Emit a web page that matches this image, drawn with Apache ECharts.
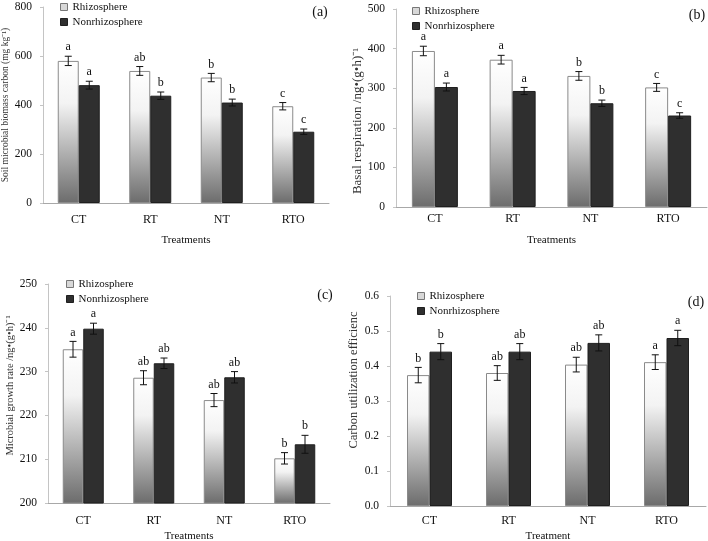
<!DOCTYPE html>
<html>
<head>
<meta charset="utf-8">
<script src="https://cdn.jsdelivr.net/npm/echarts@6/dist/echarts.min.js"></script>
<style>
  html, body { margin: 0; padding: 0; background: #fff; }
  #chart { width: 708px; height: 541px; }
</style>
</head>
<body>
<div id="chart"></div>
<script>
var categories = ['CT', 'RT', 'NT', 'RTO'];

// (a) soil microbial biomass carbon
var mbcRhizo = [580, 539, 512, 395];
var mbcRhizoErr = [19, 18, 17, 15];
var mbcRhizoSig = ['a', 'ab', 'b', 'c'];
var mbcNon = [481, 438, 410, 291];
var mbcNonErr = [16, 15, 14, 11];
var mbcNonSig = ['a', 'b', 'b', 'c'];

// (b) basal respiration
var brRhizo = [394, 372, 331, 302];
var brRhizoErr = [12, 11, 11, 10];
var brRhizoSig = ['a', 'a', 'b', 'c'];
var brNon = [303, 293, 262, 231];
var brNonErr = [10, 9, 8, 7];
var brNonSig = ['a', 'a', 'b', 'c'];

// (c) microbial growth rate
var mgrRhizo = [235.1, 228.6, 223.5, 210.2];
var mgrRhizoErr = [1.8, 1.6, 1.5, 1.3];
var mgrRhizoSig = ['a', 'ab', 'ab', 'b'];
var mgrNon = [239.8, 231.9, 228.7, 213.4];
var mgrNonErr = [1.25, 1.2, 1.3, 2.05];
var mgrNonSig = ['a', 'ab', 'ab', 'b'];

// (d) carbon utilization efficiency
var cueRhizo = [0.374, 0.380, 0.404, 0.411];
var cueRhizoErr = [0.022, 0.021, 0.021, 0.021];
var cueRhizoSig = ['b', 'ab', 'ab', 'a'];
var cueNon = [0.441, 0.441, 0.466, 0.480];
var cueNonErr = [0.023, 0.023, 0.023, 0.022];
var cueNonSig = ['b', 'ab', 'ab', 'a'];

var serif = '"Liberation Serif", "Times New Roman", serif';
var myChart = echarts.init(document.getElementById('chart'));

function rhizoFill() {
    return new echarts.graphic.LinearGradient(0, 0, 0, 1, [
        { offset: 0, color: '#ffffff' },
        { offset: 0.3, color: '#f3f3f3' },
        { offset: 1, color: '#6c6c6c' }
    ]);
}

// error bars + significance letters
function errRender(bw, side, letters) {
    return function (params, api) {
        var i = api.value(0), v = api.value(1), e = api.value(2);
        var x = api.coord([i, v])[0] + side * bw / 2;
        var yHi = api.coord([i, v + e])[1];
        var yLo = api.coord([i, v - e])[1];
        var cap = 3.5;
        var st = { stroke: '#111', lineWidth: 1 };
        return {
            type: 'group',
            children: [
                { type: 'line', shape: { x1: x, y1: yHi, x2: x, y2: yLo }, style: st },
                { type: 'line', shape: { x1: x - cap, y1: yHi, x2: x + cap, y2: yHi }, style: st },
                { type: 'line', shape: { x1: x - cap, y1: yLo, x2: x + cap, y2: yLo }, style: st },
                {
                    type: 'text', x: x, y: yHi - 3,
                    style: { text: letters[params.dataIndex], fill: '#111', font: '12px ' + serif, align: 'center', verticalAlign: 'bottom' }
                }
            ]
        };
    };
}

function zip(vals, errs) {
    return vals.map(function (v, i) { return [i, v, errs[i]]; });
}

var panels = [
    { grid: { left: 43, top: 7, width: 286, height: 196 }, bw: 21, min: 0, max: 800, interval: 200, dec: 0,
      yName: 'Soil microbial biomass carbon (mg kg⁻¹)', yNameSize: 9.5, yNameGap: 30, yNamePad: [0, 0, 0, 0],
      xName: 'Treatments', xNameGap: 32, labelMargin: 11,
      legend: { left: 55, top: -4 }, tag: '(a)', tagPos: [320, 12],
      r: mbcRhizo, re: mbcRhizoErr, rs: mbcRhizoSig, n: mbcNon, ne: mbcNonErr, ns: mbcNonSig },
    { grid: { left: 396, top: 9, width: 311, height: 198 }, bw: 23, min: 0, max: 500, interval: 100, dec: 0,
      yName: 'Basal respiration /ng•(g•h)⁻¹', yNameSize: 13, yNameGap: 30, yNamePad: [0, 26, 0, 0],
      xName: 'Treatments', xNameGap: 28, labelMargin: 6,
      legend: { left: 407, top: 0 }, tag: '(b)', tagPos: [697, 15],
      r: brRhizo, re: brRhizoErr, rs: brRhizoSig, n: brNon, ne: brNonErr, ns: brNonSig },
    { grid: { left: 48, top: 284, width: 282, height: 219 }, bw: 20.5, min: 200, max: 250, interval: 10, dec: 0,
      yName: 'Microbial growth rate /ng•(g•h)⁻¹', yNameSize: 10.5, yNameGap: 32, yNamePad: [0, 0, 0, 16],
      xName: 'Treatments', xNameGap: 28, labelMargin: 12,
      legend: { left: 61, top: 273 }, tag: '(c)', tagPos: [325, 295],
      r: mgrRhizo, re: mgrRhizoErr, rs: mgrRhizoSig, n: mgrNon, ne: mgrNonErr, ns: mgrNonSig },
    { grid: { left: 390, top: 296, width: 316, height: 210 }, bw: 22.5, min: 0, max: 0.6, interval: 0.1, dec: 1,
      yName: 'Carbon utilization efficienc', yNameSize: 12.5, yNameGap: 30, yNamePad: [0, 0, 0, 42],
      xName: 'Treatment', xNameGap: 25, labelMargin: 9,
      legend: { left: 412, top: 285 }, tag: '(d)', tagPos: [696, 302],
      r: cueRhizo, re: cueRhizoErr, rs: cueRhizoSig, n: cueNon, ne: cueNonErr, ns: cueNonSig }
];

var grids = [], xAxes = [], yAxes = [], series = [], legends = [], graphics = [];

panels.forEach(function (p, k) {
    var g = p.grid;
    g.outerBoundsMode = 'none';
    g.containLabel = false;
    grids.push(g);
    xAxes.push({
        type: 'category', gridIndex: k, data: categories,
        name: p.xName, nameLocation: 'middle', nameGap: p.xNameGap,
        nameTextStyle: { fontFamily: serif, fontSize: 11, color: '#111' },
        axisLine: { lineStyle: { color: '#a8a8a8' } },
        axisTick: { length: 4, lineStyle: { color: '#a8a8a8' } },
        axisLabel: { fontFamily: serif, fontSize: 12, color: '#111', margin: p.labelMargin },
        splitLine: { show: false }
    });
    yAxes.push({
        type: 'value', gridIndex: k, min: p.min, max: p.max, interval: p.interval,
        name: p.yName, nameLocation: 'middle', nameRotate: 90, nameGap: p.yNameGap,
        nameTextStyle: { fontFamily: serif, fontSize: p.yNameSize, color: '#333', padding: p.yNamePad },
        axisLine: { show: true, lineStyle: { color: '#c4c4c4' } },
        axisTick: { show: true, length: 3, lineStyle: { color: '#c4c4c4' } },
        axisLabel: {
            fontFamily: serif, fontSize: 11.5, color: '#111', margin: 11,
            formatter: function (v) { return v.toFixed(p.dec); }
        },
        splitLine: { show: false }
    });
    series.push({
        name: 'Rhizosphere', type: 'bar', xAxisIndex: k, yAxisIndex: k,
        barWidth: p.bw, barGap: '0%', data: p.r,
        itemStyle: { color: rhizoFill(), borderColor: '#8a8a8a', borderWidth: 1 }
    });
    series.push({
        name: 'Nonrhizosphere', type: 'bar', xAxisIndex: k, yAxisIndex: k,
        barWidth: p.bw, barGap: '0%', data: p.n,
        itemStyle: { color: '#2f2f2f', borderColor: '#1f1f1f', borderWidth: 1 }
    });
    series.push({
        name: 'errR' + k, type: 'custom', xAxisIndex: k, yAxisIndex: k, z: 5,
        renderItem: errRender(p.bw, -1, p.rs), encode: { x: 0, y: 1 }, data: zip(p.r, p.re)
    });
    series.push({
        name: 'errN' + k, type: 'custom', xAxisIndex: k, yAxisIndex: k, z: 5,
        renderItem: errRender(p.bw, 1, p.ns), encode: { x: 0, y: 1 }, data: zip(p.n, p.ne)
    });
    legends.push({
        left: p.legend.left, top: p.legend.top, orient: 'vertical',
        itemWidth: 7, itemHeight: 7, itemGap: 3,
        textStyle: { fontFamily: serif, fontSize: 11, color: '#111', lineHeight: 12 },
        data: [
            { name: 'Rhizosphere', icon: 'rect', itemStyle: { color: '#d8d8d8', borderColor: '#777', borderWidth: 1 } },
            { name: 'Nonrhizosphere', icon: 'rect', itemStyle: { color: '#2f2f2f', borderColor: '#1f1f1f', borderWidth: 1 } }
        ]
    });
    graphics.push({
        type: 'text', x: p.tagPos[0], y: p.tagPos[1],
        style: { text: p.tag, fill: '#111', font: '14px ' + serif, align: 'center', verticalAlign: 'middle' }
    });
});

myChart.setOption({
    animation: false,
    backgroundColor: '#fff',
    grid: grids,
    xAxis: xAxes,
    yAxis: yAxes,
    legend: legends,
    graphic: graphics,
    series: series
});
</script>
</body>
</html>
